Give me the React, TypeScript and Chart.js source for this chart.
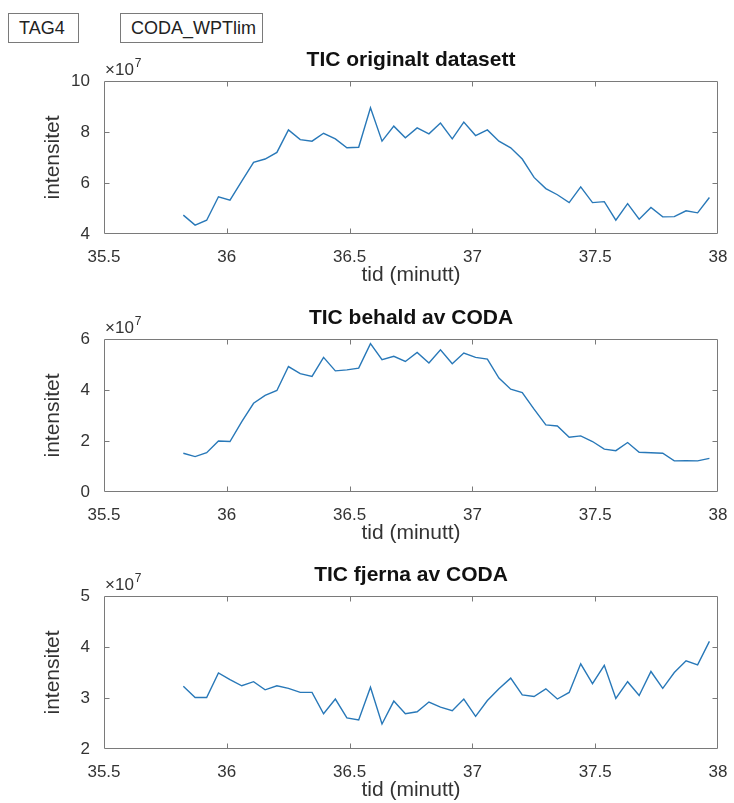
import React, { useEffect, useRef } from "react";
import { Chart, registerables } from "chart.js";

Chart.register(...registerables);

// ---------- data (intensities in units of 10^7) ----------
const TIMES = [
  35.823, 35.871, 35.918, 35.966, 36.013, 36.061, 36.109, 36.156, 36.204, 36.251,
  36.299, 36.347, 36.394, 36.442, 36.489, 36.537, 36.585, 36.632, 36.68, 36.727,
  36.775, 36.823, 36.87, 36.918, 36.965, 37.013, 37.061, 37.108, 37.156, 37.203,
  37.251, 37.299, 37.346, 37.394, 37.441, 37.489, 37.537, 37.584, 37.632, 37.679,
  37.727, 37.775, 37.822, 37.87, 37.917, 37.965,
];

const ORIGINAL = [
  4.74, 4.35, 4.54, 5.46, 5.33, 6.07, 6.81, 6.94, 7.2, 8.08,
  7.7, 7.64, 7.95, 7.73, 7.38, 7.4, 8.95, 7.64, 8.23, 7.77,
  8.16, 7.93, 8.35, 7.73, 8.39, 7.86, 8.08, 7.64, 7.38, 6.94,
  6.22, 5.78, 5.54, 5.23, 5.85, 5.23, 5.27, 4.54, 5.19, 4.58,
  5.04, 4.67, 4.68, 4.91, 4.83, 5.43,
];

const RETAINED = [
  1.52, 1.39, 1.54, 2.0, 1.98, 2.76, 3.48, 3.79, 3.98, 4.92,
  4.64, 4.53, 5.28, 4.75, 4.79, 4.86, 5.82, 5.19, 5.32, 5.12,
  5.47, 5.06, 5.58, 5.03, 5.45, 5.28, 5.21, 4.47, 4.03, 3.9,
  3.25, 2.63, 2.59, 2.15, 2.2, 1.98, 1.68, 1.62, 1.94, 1.56,
  1.54, 1.52, 1.22, 1.23, 1.22, 1.32,
];

const REMOVED = [
  3.23, 3.01, 3.01, 3.49, 3.36, 3.24, 3.32, 3.16, 3.24, 3.19,
  3.11, 3.11, 2.69, 2.98, 2.61, 2.57, 3.21, 2.49, 2.94, 2.69,
  2.73, 2.92, 2.82, 2.75, 2.98, 2.64, 2.95, 3.18, 3.39, 3.06,
  3.03, 3.18, 2.98, 3.11, 3.67, 3.28, 3.64, 2.99, 3.32, 3.05,
  3.52, 3.19, 3.5, 3.73, 3.65, 4.11,
];

const X_TICKS = [35.5, 36, 36.5, 37, 37.5, 38];
const PANEL_TITLES = ["TIC originalt datasett", "TIC behald av CODA", "TIC fjerna av CODA"];
const PANEL_SERIES = [ORIGINAL, RETAINED, REMOVED];
const Y_MIN = [4, 0, 2];
const Y_MAX = [10, 6, 5];
const Y_STEP = [2, 2, 1];
const X_LABEL = "tid (minutt)";
const Y_LABEL = "intensitet";
const EXPONENT = "7";
const TAGS = ["TAG4", "CODA_WPTlim"];

// ---------- styling ----------
const FONT = "'Liberation Sans', Arial, Helvetica, sans-serif";
const TEXT = "#333333";
const AXIS_COLOR = "#7a7a7a";
const LINE_COLOR = "#2878b8";
const CANVAS_W = 734;
const CANVAS_H = 243;
const CANVAS_TOPS = [45, 303, 560];
const TICK_LEN = 5;

const matlabAxes = {
  id: "matlabAxes",
  afterDatasetsDraw(chart: any) {
    const { ctx, chartArea, scales } = chart;
    const xs = scales.x;
    const ys = scales.y;
    const L = Math.round(chartArea.left) + 0.5;
    const R = Math.round(chartArea.right) - 0.5;
    const T = Math.round(chartArea.top) + 0.5;
    const B = Math.round(chartArea.bottom) - 0.5;
    ctx.save();
    ctx.strokeStyle = AXIS_COLOR;
    ctx.lineWidth = 1;
    ctx.beginPath();
    ctx.rect(L, T, R - L, B - T);
    ctx.stroke();
    ctx.beginPath();
    xs.ticks.forEach((t: any) => {
      const px = Math.round(xs.getPixelForValue(t.value)) + 0.5;
      if (px <= L + 1 || px >= R - 1) return;
      ctx.moveTo(px, B);
      ctx.lineTo(px, B - TICK_LEN);
      ctx.moveTo(px, T);
      ctx.lineTo(px, T + TICK_LEN);
    });
    ys.ticks.forEach((t: any) => {
      const py = Math.round(ys.getPixelForValue(t.value)) + 0.5;
      if (py <= T + 1 || py >= B - 1) return;
      ctx.moveTo(L, py);
      ctx.lineTo(L + TICK_LEN, py);
      ctx.moveTo(R, py);
      ctx.lineTo(R - TICK_LEN, py);
    });
    ctx.stroke();

    // exponent label  x10^7
    ctx.fillStyle = TEXT;
    ctx.textAlign = "left";
    ctx.textBaseline = "alphabetic";
    ctx.font = `17px ${FONT}`;
    const base = "\u00d710";
    ctx.fillText(base, chartArea.left + 1, chartArea.top - 6);
    const w = ctx.measureText(base).width;
    ctx.font = `12px ${FONT}`;
    ctx.fillText(EXPONENT, chartArea.left + 2 + w, chartArea.top - 14);
    ctx.restore();
  },
};

function makeConfig(i: number): any {
  const series = PANEL_SERIES[i];
  return {
    type: "line",
    data: {
      datasets: [
        {
          data: TIMES.map((t, j) => ({ x: t, y: series[j] })),
          borderColor: LINE_COLOR,
          borderWidth: 1.4,
          pointRadius: 0,
          tension: 0,
          fill: false,
        },
      ],
    },
    options: {
      responsive: false,
      animation: false,
      devicePixelRatio: 1,
      layout: { padding: { left: 0, right: 16, top: 0, bottom: 0 } },
      plugins: {
        legend: { display: false },
        tooltip: { enabled: false },
        title: {
          display: true,
          fullSize: false,
          text: PANEL_TITLES[i],
          color: "#111111",
          font: { family: FONT, size: 21, weight: "bold", lineHeight: 1 },
          padding: { top: 5, bottom: 10 },
        },
      },
      scales: {
        x: {
          type: "linear",
          min: 35.5,
          max: 38,
          afterBuildTicks: (s: any) => {
            s.ticks = X_TICKS.map((v) => ({ value: v }));
          },
          grid: { display: false },
          border: { display: false },
          ticks: {
            color: TEXT,
            font: { family: FONT, size: 17 },
            padding: 5,
            maxRotation: 0,
            autoSkip: false,
            callback: (v: any) => String(v),
          },
          title: {
            display: true,
            text: X_LABEL,
            color: TEXT,
            font: { family: FONT, size: 21, lineHeight: 1.2 },
            padding: { top: 0, bottom: 0 },
          },
          afterFit: (s: any) => {
            s.height = 54;
            s.paddingLeft = 0;
            s.paddingRight = 0;
          },
        },
        y: {
          type: "linear",
          min: Y_MIN[i],
          max: Y_MAX[i],
          grid: { display: false },
          border: { display: false },
          ticks: {
            stepSize: Y_STEP[i],
            color: TEXT,
            font: { family: FONT, size: 17 },
            padding: 6,
            callback: (v: any) => String(v),
          },
          title: {
            display: true,
            text: Y_LABEL,
            color: TEXT,
            font: { family: FONT, size: 21, lineHeight: 1.2 },
            padding: { top: 41, bottom: 0 },
          },
          afterFit: (s: any) => {
            s.width = 104;
            s.paddingTop = 0;
            s.paddingBottom = 0;
          },
        },
      },
    },
    plugins: [matlabAxes],
  };
}

export default function App() {
  const r0 = useRef<HTMLCanvasElement>(null);
  const r1 = useRef<HTMLCanvasElement>(null);
  const r2 = useRef<HTMLCanvasElement>(null);
  const refs = [r0, r1, r2];

  useEffect(() => {
    const charts = refs.map((r, i) => new Chart(r.current as HTMLCanvasElement, makeConfig(i)));
    return () => charts.forEach((c) => c.destroy());
  }, []);

  const tagBox = (left: number, width: number): React.CSSProperties => ({
    position: "absolute",
    left,
    top: 13,
    width,
    height: 30,
    boxSizing: "border-box",
    border: "1px solid #7a7a7a",
    display: "flex",
    alignItems: "center",
    paddingLeft: 10,
    fontFamily: FONT,
    fontSize: 18,
    color: "#222",
    background: "#fff",
  });

  return (
    <div
      style={{
        position: "absolute",
        left: 0,
        top: 0,
        width: CANVAS_W,
        height: 803,
        background: "#fff",
        overflow: "hidden",
      }}
    >
      <div style={tagBox(8, 71)}>{TAGS[0]}</div>
      <div style={tagBox(120, 143)}>{TAGS[1]}</div>
      {refs.map((r, i) => (
        <canvas
          key={i}
          ref={r}
          width={CANVAS_W}
          height={CANVAS_H}
          style={{
            position: "absolute",
            left: 0,
            top: CANVAS_TOPS[i],
            width: CANVAS_W,
            height: CANVAS_H,
            display: "block",
          }}
        />
      ))}
    </div>
  );
}
